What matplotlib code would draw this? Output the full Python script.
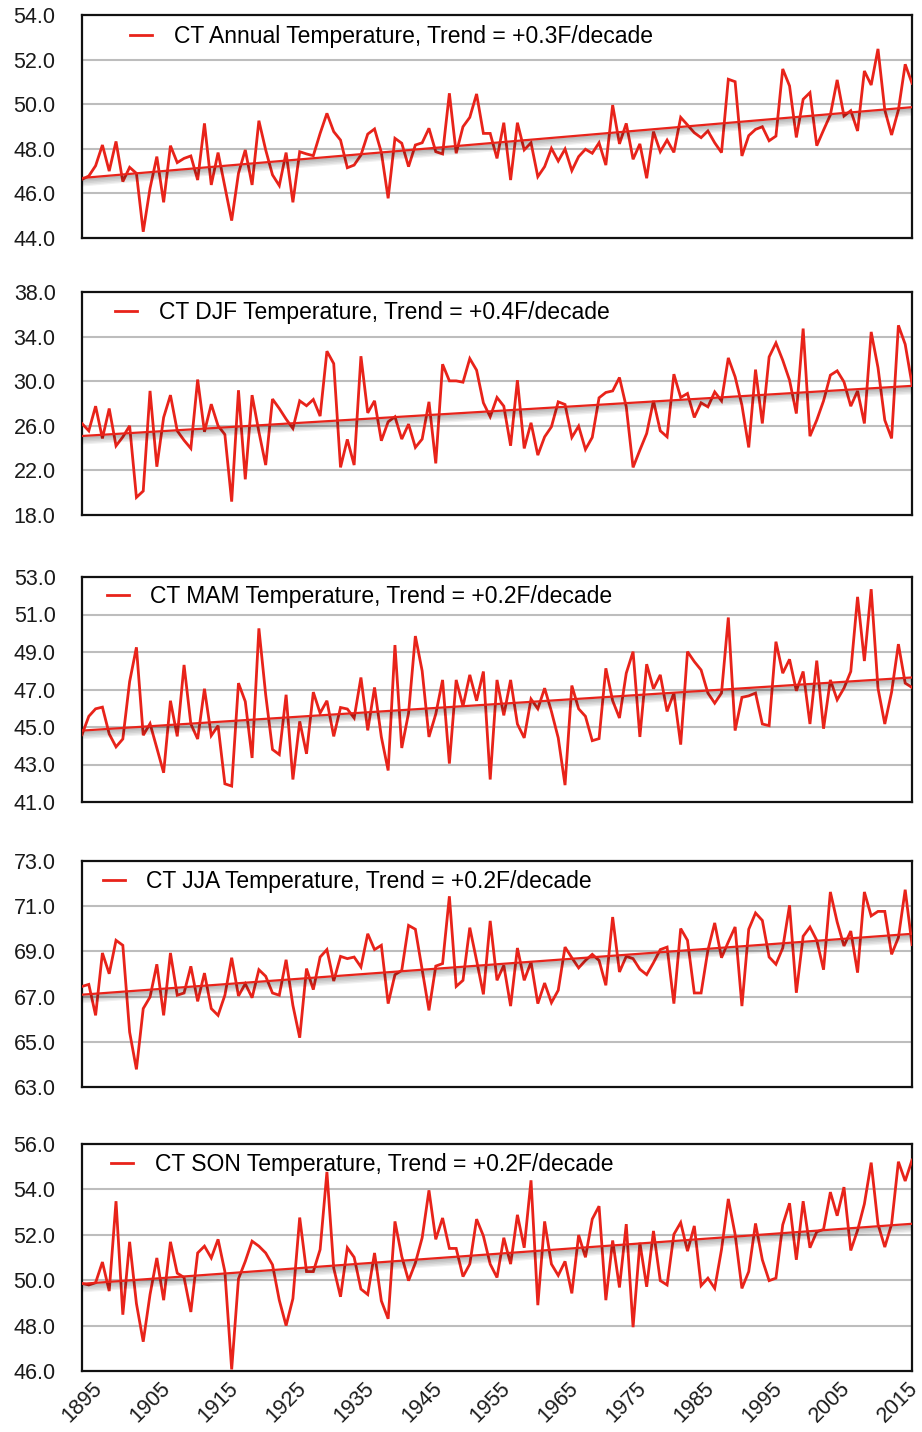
import numpy as np
import matplotlib
matplotlib.use("Agg")
import matplotlib.pyplot as plt
import matplotlib.patheffects as pe

plt.rcParams['font.family'] = ['Liberation Sans', 'DejaVu Sans']

# years on the category axis, 1895-2017
years = list(range(1895, 2018))
tick_years = list(range(1895, 2016, 10))

# values (deg F)
annual = [46.63, 46.78, 47.24, 48.17, 47.0, 48.33, 46.53, 47.17, 46.9, 44.28,
          46.23, 47.65, 45.6, 48.14, 47.38, 47.57, 47.68, 46.6, 49.14, 46.38,
          47.83, 46.3, 44.78, 46.9, 47.95, 46.38, 49.26, 47.95, 46.83, 46.35,
          47.83, 45.6, 47.87, 47.77, 47.69, 48.69, 49.59, 48.77, 48.39, 47.15,
          47.27, 47.72, 48.66, 48.89, 47.84, 45.78, 48.47, 48.25, 47.2, 48.17,
          48.27, 48.92, 47.87, 47.77, 50.49, 47.8, 48.99, 49.41, 50.46, 48.69,
          48.69, 47.57, 49.17, 46.6, 49.17, 47.95, 48.27, 46.75, 47.2, 48.02,
          47.45, 47.99, 47.02, 47.65, 47.98, 47.8, 48.27, 47.27, 49.96, 48.22,
          49.14, 47.53, 48.22, 46.68, 48.77, 47.87, 48.39, 47.84, 49.41, 49.07,
          48.72, 48.5, 48.8, 48.27, 47.83, 51.12, 51.01, 47.68, 48.59, 48.87,
          48.99, 48.36, 48.57, 51.58, 50.82, 48.51, 50.22, 50.52, 48.14, 48.84,
          49.52, 51.09, 49.47, 49.71, 48.8, 51.49, 50.86, 52.48, 49.74, 48.62,
          49.74, 51.79, 50.94]

djf = [26.2, 25.55, 27.76, 24.87, 27.55, 24.2, 25.0, 26.0, 19.58, 20.15,
       29.13, 22.33, 26.75, 28.75, 25.55, 24.7, 23.97, 30.15, 25.46, 27.94,
       26.0, 25.22, 19.2, 29.19, 21.2, 28.75, 25.46, 22.48, 28.4, 27.55,
       26.6, 25.76, 28.24, 27.8, 28.36, 26.87, 32.69, 31.58, 22.27, 24.78,
       22.48, 32.24, 27.16, 28.24, 24.66, 26.36, 26.81, 24.81, 26.15, 24.06,
       24.81, 28.15, 22.63, 31.52, 30.03, 30.03, 29.91, 32.03, 30.99, 28.06,
       26.81, 28.54, 27.76, 24.21, 30.09, 23.97, 26.27, 23.37, 25.01, 25.91,
       28.15, 27.91, 24.96, 25.97, 23.88, 24.96, 28.51, 28.99, 29.13, 30.33,
       27.7, 22.27, 23.82, 25.31, 28.24, 25.55, 25.01, 30.63, 28.54, 28.9,
       26.75, 28.06, 27.7, 29.04, 28.24, 32.09, 30.39, 27.85, 24.06, 31.04,
       26.21, 32.18, 33.43, 31.88, 30.09, 27.1, 34.72, 25.07, 26.51, 28.24,
       30.54, 30.93, 29.94, 27.76, 29.13, 26.21, 34.42, 31.22, 26.51, 24.87,
       35.01, 33.31, 29.73]

mam = [44.59, 45.57, 45.97, 46.06, 44.63, 43.94, 44.36, 47.42, 49.25, 44.56,
       45.18, 43.88, 42.56, 46.4, 44.5, 48.31, 45.16, 44.36, 47.04, 44.54,
       45.07, 41.97, 41.85, 47.34, 46.36, 43.35, 50.26, 46.72, 43.8, 43.53,
       46.72, 42.2, 45.3, 43.57, 46.86, 45.74, 46.4, 44.5, 46.04, 45.96,
       45.48, 47.64, 44.82, 47.11, 44.47, 42.68, 49.37, 43.88, 45.74, 49.85,
       47.99, 44.47, 45.69, 47.51, 43.05, 47.51, 46.1, 47.78, 46.4, 47.96,
       42.2, 47.51, 45.62, 47.51, 45.16, 44.42, 46.49, 45.97, 47.07, 45.83,
       44.42, 41.9, 47.21, 45.97, 45.57, 44.27, 44.38, 48.13, 46.4, 45.48,
       47.87, 49.02, 44.47, 48.35, 47.04, 47.78, 45.83, 46.81, 44.06, 49.02,
       48.49, 48.04, 46.81, 46.27, 46.81, 50.84, 44.81, 46.58, 46.66, 46.81,
       45.16, 45.07, 49.55, 47.87, 48.61, 46.93, 47.96, 45.16, 48.54, 44.91,
       47.51, 46.45, 47.07, 47.96, 51.94, 48.52, 52.35, 47.07, 45.16, 46.86,
       49.42, 47.34, 47.11]

jja = [67.45, 67.54, 66.17, 68.93, 68.01, 69.49, 69.27, 65.43, 63.78, 66.47,
       66.98, 68.43, 66.17, 68.93, 67.06, 67.16, 68.34, 66.79, 68.04, 66.47,
       66.17, 67.06, 68.72, 67.03, 67.57, 66.95, 68.19, 67.9, 67.16, 67.06,
       68.63, 66.61, 65.18, 68.24, 67.31, 68.75, 69.08, 67.69, 68.78, 68.68,
       68.75, 68.31, 69.78, 69.08, 69.27, 66.69, 67.97, 68.16, 70.15, 69.98,
       68.19, 66.39, 68.35, 68.46, 71.44, 67.45, 67.72, 70.05, 68.6, 67.1,
       70.35, 67.72, 68.38, 66.58, 69.15, 67.72, 68.53, 66.69, 67.6, 66.73,
       67.28, 69.19, 68.72, 68.27, 68.6, 68.87, 68.6, 67.5, 70.52, 68.09,
       68.78, 68.68, 68.21, 67.97, 68.5, 69.08, 69.19, 66.69, 70.01, 69.49,
       67.16, 67.16, 69.05, 70.26, 68.72, 69.42, 70.08, 66.58, 69.98, 70.7,
       70.37, 68.75, 68.43, 69.15, 71.04, 67.17, 69.67, 70.08, 69.49, 68.19,
       71.63, 70.3, 69.24, 69.9, 68.06, 71.63, 70.57, 70.77, 70.77, 68.87,
       69.61, 71.73, 69.3]

son = [49.86, 49.79, 49.89, 50.8, 49.52, 53.48, 48.48, 51.69, 48.97, 47.29,
       49.37, 50.98, 49.12, 51.69, 50.31, 50.12, 48.6, 51.2, 51.5, 50.98,
       51.8, 50.38, 46.07, 50.06, 50.83, 51.72, 51.5, 51.2, 50.68, 49.12,
       48.0, 49.19, 52.76, 50.38, 50.38, 51.35, 54.77, 50.53, 49.27, 51.43,
       51.01, 49.61, 49.37, 51.2, 49.09, 48.3, 52.59, 51.05, 49.98, 50.76,
       51.87, 53.96, 51.8, 52.74, 51.4, 51.4, 50.16, 50.71, 52.69, 51.95,
       50.71, 50.12, 51.87, 50.71, 52.88, 51.43, 54.4, 48.9, 52.59, 50.71,
       50.21, 50.83, 49.42, 51.99, 51.01, 52.69, 53.26, 49.12, 51.75, 49.68,
       52.47, 47.93, 51.65, 49.71, 52.17, 49.98, 49.79, 52.02, 52.54, 51.28,
       52.39, 49.76, 50.09, 49.64, 51.35, 53.58, 52.02, 49.64, 50.38, 52.5,
       50.9, 49.98, 50.09, 52.44, 53.39, 50.9, 53.48, 51.43, 52.13, 52.24,
       53.88, 52.84, 54.1, 51.31, 52.2, 53.36, 55.18, 52.47, 51.46, 52.47,
       55.22, 54.37, 55.29]

titles = ['CT Annual Temperature, Trend = +0.3F/decade',
          'CT DJF Temperature, Trend = +0.4F/decade',
          'CT MAM Temperature, Trend = +0.2F/decade',
          'CT JJA Temperature, Trend = +0.2F/decade',
          'CT SON Temperature, Trend = +0.2F/decade']
series = [annual, djf, mam, jja, son]
y_ranges = [(44, 54, 2), (18, 38, 4), (41, 53, 2), (63, 73, 2), (46, 56, 2)]

# layout in pixels of the 922x1432 figure
W, H = 922, 1432
boxes = [(15, 238), (292, 515), (577, 802), (861, 1087), (1144, 1371)]
legend_xy = [(0.058, 0.905), (0.040, 0.906), (0.030, 0.912), (0.025, 0.910), (0.035, 0.909)]

red = '#e8231a'
# soft drop shadow under the trend line
shadow = [pe.SimpleLineShadow(offset=(0, -d), shadow_color='black', alpha=0.06, linewidth=w)
          for d, w in [(1.2, 1.5), (1.8, 2.5), (2.4, 3.5), (3.0, 4.5), (3.4, 5.5)]] + [pe.Normal()]

fig = plt.figure(figsize=(W / 100, H / 100), dpi=100)

for i, (vals, title, (lo, hi, step), (top, bot), lxy) in enumerate(
        zip(series, titles, y_ranges, boxes, legend_xy)):
    ax = fig.add_axes([82 / W, 1 - bot / H, 830 / W, (bot - top) / H])
    ax.plot(years, vals, color=red, lw=2.0, label=title, zorder=3, solid_joinstyle='miter')
    coef = np.polyfit(years, vals, 1)
    ax.plot(years, np.polyval(coef, years), color=red, lw=1.6, zorder=4, path_effects=shadow)

    ax.set_xlim(years[0], years[-1])
    ax.set_ylim(lo, hi)
    ticks = np.arange(lo, hi + 0.01, step)
    ax.set_yticks(ticks)
    ax.set_yticklabels(['%.1f' % t for t in ticks])
    for t in ticks[1:-1]:
        ax.axhline(t, color='#bdbdbd', lw=1.5, zorder=1)

    ax.set_xticks(tick_years)
    if i == len(series) - 1:
        ax.set_xticklabels([str(y) for y in tick_years], rotation=45, ha='center')
    else:
        ax.set_xticklabels([])
    ax.tick_params(axis='y', length=0, pad=19, labelsize=15.5, colors='#1a1a1a')
    ax.tick_params(axis='x', length=0, pad=5, labelsize=15.5, colors='#1a1a1a')
    for s in ax.spines.values():
        s.set_linewidth(1.6)
        s.set_color('#111111')

    ax.legend(loc='center left', bbox_to_anchor=lxy, frameon=False, fontsize=16.5,
              borderpad=0, borderaxespad=0, handlelength=0.95, handletextpad=0.95)

fig.savefig('out.png', dpi=100)
